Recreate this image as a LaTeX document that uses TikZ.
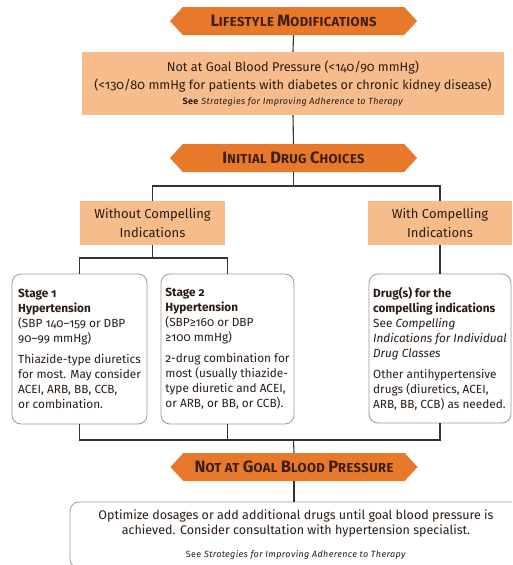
\documentclass[tikz,border=0pt]{standalone}
\usepackage{fontspec}
\setmainfont{Fira Sans}[Numbers=OldStyle]
\usetikzlibrary{shapes.symbols}
\definecolor{orng}{HTML}{E8792B}
\definecolor{peach}{HTML}{F7BC8C}
\definecolor{ink}{HTML}{2A1C14}
\definecolor{hink}{HTML}{3A1E0E}
\definecolor{rim}{HTML}{9A9A9A}
\definecolor{wire}{HTML}{333333}
\newcommand\capA[1]{{\fontsize{16.5}{14}\selectfont #1}}
\newcommand\seenote[1]{{\fontsize{9}{10}\selectfont\addfontfeature{LetterSpace=4}#1}}
\begin{document}
\begin{tikzpicture}[x=1pt,y=-1pt,
  hexa/.style={signal, signal to=west and east, signal pointer angle=95, fill=orng,
    minimum width=247pt, minimum height=28pt, inner sep=0pt, text=hink,
    font=\bfseries\fontsize{13}{14}\selectfont\addfontfeature{LetterSpace=3}},
  peachbox/.style={fill=peach, inner sep=0pt, text=ink, align=center},
  roundbox/.style={draw=rim, line width=0.8pt, fill=white, rounded corners=9pt,
    inner sep=0pt, text=ink},
  wirestyle/.style={draw=wire, line width=1.1pt},
  small/.style={font=\fontsize{11.8}{15}\selectfont}]
\clip (0,0) rectangle (512,565);
\fill[white] (0,0) rectangle (512,565);

\node[hexa] (life) at (293.5,21) {\capA{L}IFESTYLE \capA{M}ODIFICATIONS};
\node[peachbox, minimum width=422pt, minimum height=63pt,
  font=\fontsize{12.7}{18}\selectfont] (goal) at (293,83.5)
  {Not at Goal Blood Pressure (<140/90 mmHg)\\
   (<130/80 mmHg for patients with diabetes or chronic kidney disease)\\[-3pt]
   \seenote{\textbf{See} \emph{Strategies for Improving Adherence to Therapy}}};
\node[hexa] (init) at (293.5,158) {\capA{I}NITIAL \capA{D}RUG \capA{C}HOICES};

\node[peachbox, minimum width=145pt, minimum height=44pt,
  font=\fontsize{13}{19}\selectfont] (without) at (152.5,223)
  {Without Compelling\\Indications};
\node[peachbox, minimum width=144pt, minimum height=44pt,
  font=\fontsize{13}{19}\selectfont] (with) at (440,223)
  {With Compelling\\Indications};

\node[roundbox, small, minimum width=135pt, minimum height=150pt,
  align=left] (s1) at (79.5,349)
  {\textbf{Stage 1}\\\textbf{Hypertension}\\(SBP 140–159 or DBP\\90–99 mmHg)\\[6pt]
   Thiazide-type diuretics\\for most. May consider\\ACEI, ARB, BB, CCB,\\or combination.};
\node[roundbox, small, minimum width=133pt, minimum height=150pt,
  align=left] (s2) at (227.5,349)
  {\textbf{Stage 2}\\\textbf{Hypertension}\\(SBP≥160 or DBP\\≥100 mmHg)\\[6pt]
   2-drug combination for\\most (usually thiazide-\\type diuretic and ACEI,\\or ARB, or BB, or CCB).};
\node[roundbox, small, minimum width=142pt, minimum height=149pt,
  align=left] (comp) at (440,348.5)
  {\textbf{Drug(s) for the}\\\textbf{compelling indications}\\See \emph{Compelling}\\
   \emph{Indications for Individual}\\\emph{Drug Classes}\\[6pt]
   Other antihypertensive\\drugs (diuretics, ACEI,\\ARB, BB, CCB) as needed.};

\node[hexa] (nag) at (294,467) {\capA{N}OT AT \capA{G}OAL \capA{B}LOOD \capA{P}RESSURE};
\node[roundbox, minimum width=452pt, minimum height=66pt, align=center,
  font=\fontsize{12.5}{15}\selectfont] (opt) at (296,535)
  {Optimize dosages or add additional drugs until goal blood pressure is\\
   achieved. Consider consultation with hypertension specialist.\\[8pt]
   \seenote{See \emph{Strategies for Improving Adherence to Therapy}}};

\coordinate (j1) at (293.5,186);
\coordinate (j2) at (152.5,258);
\coordinate (j3) at (293.5,440);

\draw[wirestyle] (life.south) -- (goal.north);
\draw[wirestyle] (goal.south) -- (init.north);
\draw[wirestyle] (init.south) -- (j1);
\draw[wirestyle] (without.north) |- (j1) -| (with.north);
\draw[wirestyle] (without.south) -- (j2);
\draw[wirestyle] (s1.north) |- (j2) -| (s2.north);
\draw[wirestyle] (with.south) -- (comp.north);
\draw[wirestyle] (s1.south) |- (j3) -| (comp.south);
\draw[wirestyle] (s2.south) -- (s2.south |- j3);
\draw[wirestyle] (j3) -- (nag.north);
\draw[wirestyle] (nag.south) -- (opt.north -| nag.south);
\end{tikzpicture}
\end{document}
